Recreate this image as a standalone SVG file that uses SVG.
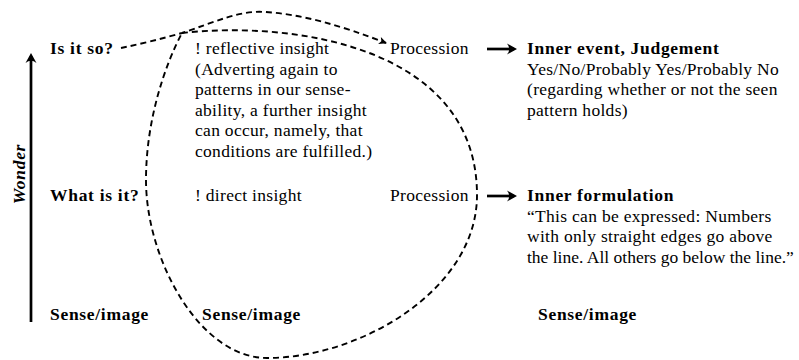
<svg xmlns="http://www.w3.org/2000/svg" width="799" height="360" viewBox="0 0 799 360">
<style>
text{font-family:"Liberation Serif","Times New Roman",serif;font-size:17.5px;fill:#000;letter-spacing:0.3px}
.b{font-weight:bold;letter-spacing:0.7px}
.bi{font-weight:bold;font-style:italic;letter-spacing:0.7px}
.tight{letter-spacing:0px}
.dash{fill:none;stroke:#000;stroke-width:1.9;stroke-dasharray:6 4}
.thick{fill:none;stroke:#000;stroke-width:2.7}
</style>
<defs>
<marker id="big" markerUnits="userSpaceOnUse" viewBox="-11 -6 12 12" markerWidth="12" markerHeight="12" refX="-3" refY="0" orient="auto">
<path d="M0,0 L-10,-5.5 Q-5.5,0 -10,5.5 Z" fill="#000"/>
</marker>
<marker id="small" markerUnits="userSpaceOnUse" viewBox="-9 -5 10 10" markerWidth="10" markerHeight="10" refX="-1" refY="0" orient="auto">
<path d="M0,0 L-8,-3.8 L-6,0 L-8,3.8 Z" fill="#000"/>
</marker>
</defs>
<g id="connectors">
<path id="wonder-axis" class="thick" d="M31,322 L31,56" marker-end="url(#big)"/>
<path id="isitso-to-procession" class="dash" d="M121,48 Q150,42 182,33 C215,22 240,10 265,12 C300,14 340,25 386,43" marker-end="url(#small)"/>
<path id="insight-loop" class="dash" d="M182,33 C300,20 477,50 477,195 C477,290 360,358 267,358 C200,358 146,260 146,180 C146,120 165,65 182,33"/>
<path id="arrow-judgement" class="thick" d="M487,49 L514,49" marker-end="url(#big)"/>
<path id="arrow-formulation" class="thick" d="M487,196 L514,196" marker-end="url(#big)"/>
</g>
<g id="wonder"><text class="bi" text-anchor="middle" transform="translate(25,174) rotate(-90)">Wonder</text></g>
<g id="is-it-so"><text class="b" x="50" y="54">Is it so?</text></g>
<g id="what-is-it"><text class="b" x="50" y="201">What is it?</text></g>
<g id="sense-1"><text class="b" x="50" y="320">Sense/image</text></g>
<g id="sense-2"><text class="b" x="202" y="320">Sense/image</text></g>
<g id="sense-3"><text class="b" x="538" y="320">Sense/image</text></g>
<g id="reflective-insight">
<text x="195" y="54">! reflective insight</text>
<text x="195" y="74.5">(Adverting again to</text>
<text x="195" y="95">patterns in our sense-</text>
<text x="195" y="115.5">ability, a further insight</text>
<text x="195" y="136">can occur, namely, that</text>
<text x="195" y="156.5">conditions are fulfilled.)</text>
</g>
<g id="direct-insight"><text x="195" y="201">! direct insight</text></g>
<g id="procession-1"><text x="390" y="54">Procession</text></g>
<g id="procession-2"><text x="390" y="201">Procession</text></g>
<g id="judgement">
<text class="b" x="527" y="54">Inner event, Judgement</text>
<text x="527" y="74.5">Yes/No/Probably Yes/Probably No</text>
<text x="527" y="95">(regarding whether or not the seen</text>
<text x="527" y="115.5">pattern holds)</text>
</g>
<g id="formulation">
<text class="b" x="527" y="201">Inner formulation</text>
<text x="527" y="221.5">“This can be expressed: Numbers</text>
<text x="527" y="242">with only straight edges go above</text>
<text class="tight" x="527" y="262.5">the line. All others go below the line.”</text>
</g>
</svg>
